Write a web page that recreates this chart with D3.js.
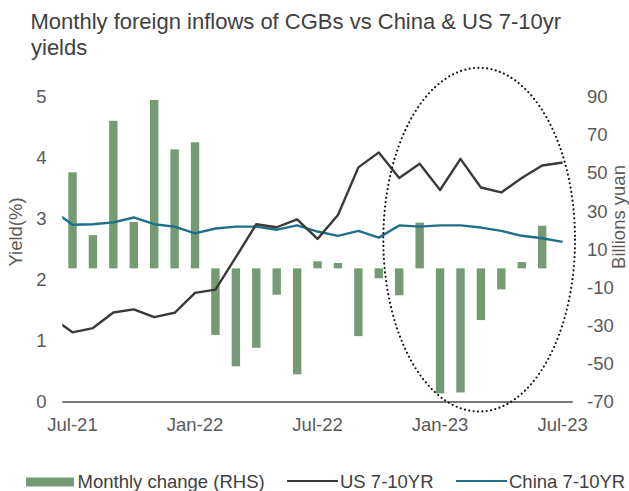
<!DOCTYPE html>
<html>
<head>
<meta charset="utf-8">
<script src="https://cdn.jsdelivr.net/npm/d3@7/dist/d3.min.js"></script>
<style>
  html, body { margin: 0; padding: 0; background: #ffffff; }
  svg { display: block; font-family: "Liberation Sans", Arial, sans-serif; }
</style>
</head>
<body>
<svg id="chart" width="629" height="491"></svg>
<script>
// ---- data ----
const months = ["Jun-21","Jul-21","Aug-21","Sep-21","Oct-21","Nov-21","Dec-21",
  "Jan-22","Feb-22","Mar-22","Apr-22","May-22","Jun-22","Jul-22","Aug-22","Sep-22","Oct-22","Nov-22","Dec-22",
  "Jan-23","Feb-23","Mar-23","Apr-23","May-23","Jun-23","Jul-23"];
const usYield = [1.38, 1.14, 1.21, 1.465, 1.515, 1.39, 1.46,
  1.785, 1.84, 2.37, 2.91, 2.86, 2.99, 2.67, 3.06, 3.84, 4.085, 3.665, 3.9,
  3.47, 3.98, 3.51, 3.43, 3.665, 3.87, 3.92];
const chinaYield = [3.15, 2.9, 2.91, 2.94, 3.02, 2.91, 2.87,
  2.76, 2.84, 2.87, 2.87, 2.82, 2.89, 2.79, 2.72, 2.80, 2.69, 2.89, 2.87,
  2.89, 2.89, 2.855, 2.80, 2.72, 2.68, 2.62];
const barMonths = months.slice(1, 25); // Jul-21 .. Jun-23
const monthlyChange = [50.3, 17.4, 77.3, 24.3, 88.2, 62.3,
  66, -34.9, -51.3, -41.6, -13.8, -55.5, 3.7, 2.8, -35.5, -5.2, -14.1, 23.9,
  -65.5, -65, -27.1, -11, 3.3, 22.3];
const xTickLabels = ["Jul-21","Jan-22","Jul-22","Jan-23","Jul-23"];
const leftTicks = [0, 1, 2, 3, 4, 5];
const rightTicks = [-70, -50, -30, -10, 10, 30, 50, 70, 90];
// annotation ellipse (category index span, RHS value span)
const highlight = { i0: 16.22, i1: 25.61, top: 105, bottom: -75 };

// ---- layout ----
const svg = d3.select("#chart");
const plotL = 62.3, plotR = 572.8, plotT = 96.5, plotB = 402;
const step = (plotR - plotL) / 25;

const x = d3.scaleBand().domain(months).range([plotL - step, plotR]).paddingInner(0).paddingOuter(0);
const xc = m => x(m) + x.bandwidth() / 2;
const xi = d3.scaleLinear().domain([-0.5, months.length - 0.5]).range([plotL - step, plotR]);
const yL = d3.scaleLinear().domain([0, 5]).range([plotB, plotT]);
const yR = d3.scaleLinear().domain([-70, 90]).range([plotB, plotT]);

const barW = 8.4;
const textCol = "#595959";

// clip
svg.append("clipPath").attr("id", "plotclip")
  .append("rect").attr("x", plotL).attr("y", 0).attr("width", plotR - plotL).attr("height", 491);

// bars
svg.append("g").selectAll("rect").data(barMonths.map((m, i) => ({ m, v: monthlyChange[i] })))
  .join("rect")
  .attr("x", d => xc(d.m) - barW / 2)
  .attr("width", barW)
  .attr("y", d => yR(Math.max(0, d.v)))
  .attr("height", d => Math.abs(yR(d.v) - yR(0)))
  .attr("fill", "#749b74");

// x axis line
svg.append("line").attr("x1", plotL).attr("x2", plotR).attr("y1", plotB).attr("y2", plotB)
  .attr("stroke", "#4d4d4d").attr("stroke-width", 1.5);

// lines
const lineGen = d3.line().x((d, i) => xc(months[i])).y(d => yL(d));
const gLines = svg.append("g").attr("clip-path", "url(#plotclip)");
gLines.append("path").attr("d", lineGen(chinaYield)).attr("fill", "none")
  .attr("stroke", "#1f6f8b").attr("stroke-width", 2.4).attr("stroke-linejoin", "round");
gLines.append("path").attr("d", lineGen(usYield)).attr("fill", "none")
  .attr("stroke", "#3a3a3a").attr("stroke-width", 2.4).attr("stroke-linejoin", "round");

// left ticks
svg.append("g").selectAll("text").data(leftTicks).join("text")
  .attr("x", 46.5).attr("y", d => yL(d)).attr("dy", "0.35em")
  .attr("text-anchor", "end").attr("font-size", 18.5).attr("fill", textCol)
  .text(d => d);
// right ticks
svg.append("g").selectAll("text").data(rightTicks).join("text")
  .attr("x", 587).attr("y", d => yR(d)).attr("dy", "0.35em")
  .attr("text-anchor", "start").attr("font-size", 18.5).attr("fill", textCol)
  .text(d => d);
// x tick labels
svg.append("g").selectAll("text").data(xTickLabels).join("text")
  .attr("x", d => xc(d)).attr("y", 431)
  .attr("text-anchor", "middle").attr("font-size", 18.5).attr("fill", textCol)
  .text(d => d);

// axis titles
svg.append("text").attr("transform", "translate(21.5,232) rotate(-90)")
  .attr("text-anchor", "middle").attr("font-size", 18.5).attr("fill", textCol).text("Yield(%)");
svg.append("text").attr("transform", "translate(624.5,217) rotate(-90)")
  .attr("text-anchor", "middle").attr("font-size", 18.5).attr("fill", textCol).text("Billions yuan");

// ellipse annotation
const ex0 = xi(highlight.i0), ex1 = xi(highlight.i1);
const ey0 = yR(highlight.top), ey1 = yR(highlight.bottom);
svg.append("ellipse")
  .attr("cx", (ex0 + ex1) / 2).attr("cy", (ey0 + ey1) / 2)
  .attr("rx", (ex1 - ex0) / 2).attr("ry", (ey1 - ey0) / 2)
  .attr("fill", "none").attr("stroke", "#111").attr("stroke-width", 2.2)
  .attr("stroke-dasharray", "0 4.4").attr("stroke-linecap", "round");

// title
const title = svg.append("text").attr("font-size", 22).attr("fill", "#404040");
title.append("tspan").attr("x", 30.5).attr("y", 29).text("Monthly foreign inflows of CGBs vs China & US 7-10yr");
title.append("tspan").attr("x", 31).attr("y", 55).text("yields");

// legend
const lg = svg.append("g");
lg.append("rect").attr("x", 26).attr("y", 477.5).attr("width", 48).attr("height", 9).attr("fill", "#749b74");
lg.append("text").attr("x", 77.5).attr("y", 488).attr("font-size", 18.5).attr("fill", "#404040").text("Monthly change (RHS)");
lg.append("line").attr("x1", 287).attr("x2", 338).attr("y1", 481).attr("y2", 481).attr("stroke", "#3a3a3a").attr("stroke-width", 2.2);
lg.append("text").attr("x", 340).attr("y", 488).attr("font-size", 18.5).attr("fill", "#404040").text("US 7-10YR");
lg.append("line").attr("x1", 456).attr("x2", 507).attr("y1", 481).attr("y2", 481).attr("stroke", "#1f6f8b").attr("stroke-width", 2.2);
lg.append("text").attr("x", 509).attr("y", 488).attr("font-size", 18.5).attr("fill", "#404040").text("China 7-10YR");
</script>
</body>
</html>
